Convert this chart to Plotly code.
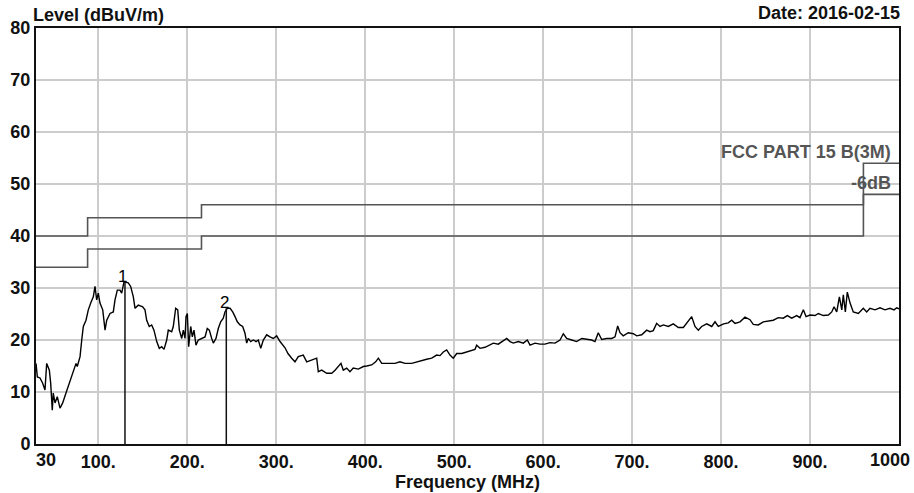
import plotly.graph_objects as go

# Measured field strength, quasi-peak scan (MHz, dBuV/m)
freq_mhz = [
    30.0, 31.5, 34.5, 37.5, 40.1, 42.0, 45.0, 46.5, 48.3, 49.4, 51.4, 53.9, 57.0, 60.0,
    63.7, 68.2, 71.9, 75.0, 76.4, 79.5, 81.4, 83.2, 86.2, 88.8, 91.5, 94.4, 96.3, 98.2,
    100.0, 101.9, 105.0, 107.6, 109.5, 113.2, 116.9, 118.8, 121.4, 124.4, 126.3, 128.9,
    133.7, 136.4, 139.4, 141.3, 145.0, 149.9, 152.5, 154.4, 157.3, 160.0, 162.6, 165.7,
    168.6, 171.3, 173.9, 176.9, 178.7, 182.5, 184.3, 187.0, 189.3, 191.1, 193.8, 195.6,
    197.5, 198.6, 200.1, 201.6, 203.9, 205.7, 207.6, 209.8, 212.4, 216.2, 220.0, 222.5,
    224.8, 227.5, 229.3, 232.3, 234.9, 237.6, 240.5, 242.4, 245.0, 248.1, 251.1, 253.7,
    256.3, 259.3, 262.3, 264.9, 266.8, 268.6, 271.3, 274.2, 277.3, 279.9, 282.6, 285.5,
    289.3, 293.0, 296.7, 300.5, 304.3, 309.9, 313.2, 317.4, 321.1, 324.8, 330.4, 334.3,
    339.9, 345.5, 347.3, 351.1, 356.8, 362.4, 366.1, 369.8, 372.8, 375.4, 379.2, 382.9,
    386.6, 392.3, 397.9, 401.7, 407.3, 411.8, 414.8, 418.6, 426.0, 433.5, 439.1, 444.8,
    452.3, 457.9, 463.5, 469.1, 474.8, 480.4, 484.1, 487.8, 491.6, 495.3, 499.0, 502.9,
    508.5, 514.1, 519.7, 523.4, 525.3, 529.1, 534.7, 540.3, 544.0, 549.6, 555.2, 559.1,
    562.8, 566.5, 572.1, 577.7, 582.2, 585.3, 590.9, 596.5, 602.1, 607.7, 613.4, 619.0,
    622.7, 626.5, 632.1, 637.7, 643.4, 649.0, 654.6, 658.3, 662.0, 665.8, 671.5, 677.1,
    680.8, 683.8, 686.4, 690.1, 695.7, 701.4, 705.2, 710.8, 716.4, 720.1, 723.8, 727.6,
    731.4, 735.1, 740.7, 746.3, 752.0, 757.6, 761.4, 767.0, 770.7, 774.4, 778.2, 783.9,
    789.5, 793.2, 796.9, 802.9, 808.1, 811.9, 815.7, 821.3, 826.9, 832.5, 836.2, 841.8,
    847.5, 853.1, 858.7, 864.3, 869.9, 874.5, 879.4, 885.0, 888.7, 892.5, 895.5, 900.0,
    905.6, 909.3, 915.0, 920.6, 924.4, 927.0, 930.0, 933.0, 935.7, 937.4, 939.7, 941.9,
    945.0, 948.6, 954.3, 959.9, 963.7, 967.4, 973.0, 978.7, 984.3, 989.9, 994.4, 997.4,
    1000.0,
]
level_dbuv = [
    15.5, 12.9, 12.7, 11.7, 10.4, 15.5, 14.2, 11.7, 6.5, 9.8, 7.9, 9.1, 6.9, 7.9,
    9.8, 12.0, 14.2, 15.5, 14.9, 16.8, 20.0, 22.6, 23.8, 25.8, 27.1, 28.3, 30.3, 27.7,
    29.0, 27.1, 25.8, 21.9, 23.8, 25.1, 25.4, 27.7, 29.6, 29.6, 29.0, 31.2,
    31.0, 30.3, 28.3, 26.1, 26.7, 26.4, 25.8, 23.8, 22.6, 22.9, 21.9, 19.7,
    18.4, 18.7, 18.2, 20.0, 21.9, 21.6, 22.6, 26.1, 25.8, 21.9, 20.3, 21.9,
    20.3, 24.5, 25.1, 18.7, 22.6, 20.6, 21.9, 19.0, 20.0, 20.3, 20.6, 22.2,
    21.9, 20.3, 19.4, 20.3, 22.2, 23.5, 24.2, 25.4, 26.1, 26.1, 25.4, 24.5,
    23.5, 22.9, 22.6, 21.3, 19.4, 20.3, 19.7, 20.0, 19.7, 20.0, 18.4, 20.0,
    21.0, 20.6, 20.3, 20.8, 19.7, 18.5, 17.4, 16.5, 15.8, 16.8, 17.1, 15.8,
    16.2, 16.5, 13.9, 14.2, 13.6, 13.6, 14.2, 14.9, 15.5, 14.2, 14.6, 13.9,
    14.6, 14.4, 14.9, 15.0, 15.2, 15.8, 16.5, 15.5, 15.5, 15.5, 15.8, 15.5,
    15.5, 15.8, 16.0, 16.3, 16.5, 17.1, 17.0, 17.7, 18.1, 17.1, 16.5, 17.4,
    17.4, 17.7, 17.9, 18.2, 19.0, 18.4, 18.6, 19.0, 19.4, 19.2, 19.9, 20.3,
    19.7, 19.4, 19.7, 19.4, 20.0, 19.0, 19.4, 19.2, 19.2, 19.5, 19.4, 20.0,
    21.2, 20.3, 20.0, 19.7, 20.3, 20.1, 20.0, 19.7, 21.4, 20.1, 20.3, 20.3,
    20.6, 22.7, 21.4, 20.8, 21.4, 21.2, 20.8, 21.0, 21.9, 21.6, 21.8, 23.2,
    22.6, 22.9, 22.6, 23.1, 22.4, 22.4, 23.2, 24.5, 22.6, 21.9, 22.6, 23.1,
    22.6, 23.5, 22.6, 23.1, 23.3, 23.8, 23.2, 23.5, 24.4, 23.9, 23.0, 22.9,
    23.5, 23.7, 23.8, 24.3, 24.2, 24.7, 24.2, 24.7, 24.3, 25.8, 24.5, 24.8,
    24.7, 25.1, 24.7, 24.8, 25.4, 26.4, 25.4, 28.3, 25.8, 28.7, 25.4, 29.2,
    27.1, 25.4, 25.1, 26.1, 25.4, 26.1, 25.8, 26.2, 25.8, 26.1, 25.8, 26.2,
    26.0,
]

# FCC Part 15 Class B (3 m) limit and the -6 dB margin line, as steps
limit_edges_mhz = [30, 88, 216, 960, 1000]
fcc_limit = [40.0, 43.5, 46.0, 54.0, 54.0]
fcc_margin = [34.0, 37.5, 40.0, 48.0, 48.0]

# Marked peaks
marker_freq = [130.0, 243.9]
marker_level = [31.2, 26.1]
marker_labels = ["1", "2"]

x_tick_vals = [100, 200, 300, 400, 500, 600, 700, 800, 900]
x_tick_text = ["100.", "200.", "300.", "400.", "500.", "600.", "700.", "800.", "900."]
y_tick_vals = [0, 10, 20, 30, 40, 50, 60, 70, 80]

FONT = "Liberation Sans"
INK = "#111111"
LIMIT_GRAY = "#555555"
FS = 18

fig = go.Figure()

fig.add_trace(go.Scatter(
    x=limit_edges_mhz, y=fcc_limit, mode="lines", line_shape="hv",
    line=dict(color=LIMIT_GRAY, width=1.6), hoverinfo="skip", showlegend=False))
fig.add_trace(go.Scatter(
    x=limit_edges_mhz, y=fcc_margin, mode="lines", line_shape="hv",
    line=dict(color=LIMIT_GRAY, width=1.6), hoverinfo="skip", showlegend=False))

fig.add_trace(go.Scatter(
    x=freq_mhz, y=level_dbuv, mode="lines",
    line=dict(color="#000000", width=1.4), showlegend=False))

for f, lv, lab in zip(marker_freq, marker_level, marker_labels):
    fig.add_trace(go.Scatter(
        x=[f, f], y=[0, lv], mode="lines",
        line=dict(color=INK, width=1.5), hoverinfo="skip", showlegend=False))
    fig.add_annotation(x=f, y=lv, text=lab, showarrow=False,
                       xanchor="center", yanchor="bottom", xshift=-2, yshift=-6,
                       font=dict(family=FONT, size=17, color="#000000"))

fig.update_xaxes(
    range=[30, 1000], tickvals=x_tick_vals, ticktext=x_tick_text, ticks="",
    automargin=False,
    showgrid=True, gridcolor="#cccccc", gridwidth=1.5,
    showline=True, linecolor=INK, linewidth=2, mirror=True, zeroline=False,
    tickfont=dict(family=FONT, size=FS, color=INK, weight="bold"))
fig.update_yaxes(
    range=[0, 80], tickvals=y_tick_vals, ticks="", automargin=False,
    showgrid=True, gridcolor="#cccccc", gridwidth=1.5,
    showline=True, linecolor=INK, linewidth=2, mirror=True, zeroline=False,
    tickfont=dict(family=FONT, size=FS, color=INK, weight="bold"))

# Outer frequency labels sit inside the frame edges
fig.add_annotation(xref="x", yref="paper", x=30, y=0, text="<b>30</b>", showarrow=False,
                   xanchor="left", yanchor="top", xshift=-2, yshift=-4,
                   font=dict(family=FONT, size=FS, color=INK))
fig.add_annotation(xref="x", yref="paper", x=1000, y=0, text="<b>1000</b>", showarrow=False,
                   xanchor="right", yanchor="top", xshift=13, yshift=-4,
                   font=dict(family=FONT, size=FS, color=INK))

fig.add_annotation(xref="paper", yref="paper", x=0.5, y=0, text="<b>Frequency (MHz)</b>",
                   showarrow=False, xanchor="center", yanchor="top", yshift=-26,
                   font=dict(family=FONT, size=FS, color=INK))
fig.add_annotation(xref="paper", yref="paper", x=0, y=1, text="<b>Level (dBuV/m)</b>",
                   showarrow=False, xanchor="left", yanchor="bottom", xshift=-5, yshift=1,
                   font=dict(family=FONT, size=FS, color=INK))
fig.add_annotation(xref="paper", yref="paper", x=1, y=1, text="<b>Date: 2016-02-15</b>",
                   showarrow=False, xanchor="right", yanchor="bottom", xshift=3, yshift=3,
                   font=dict(family=FONT, size=FS, color=INK))

fig.add_annotation(xref="x", yref="y", x=1000, y=56.2, text="<b>FCC PART 15 B(3M)</b>",
                   showarrow=False, xanchor="right", yanchor="middle", xshift=-6,
                   font=dict(family=FONT, size=FS, color=LIMIT_GRAY))
fig.add_annotation(xref="x", yref="y", x=1000, y=50.2, text="<b>-6dB</b>",
                   showarrow=False, xanchor="right", yanchor="middle", xshift=-6,
                   font=dict(family=FONT, size=FS, color=LIMIT_GRAY))

fig.update_layout(
    width=914, height=493,
    margin=dict(l=36, r=15, t=28, b=49),
    paper_bgcolor="white", plot_bgcolor="white",
    font=dict(family=FONT, color=INK),
)

fig.write_html("out.html")
